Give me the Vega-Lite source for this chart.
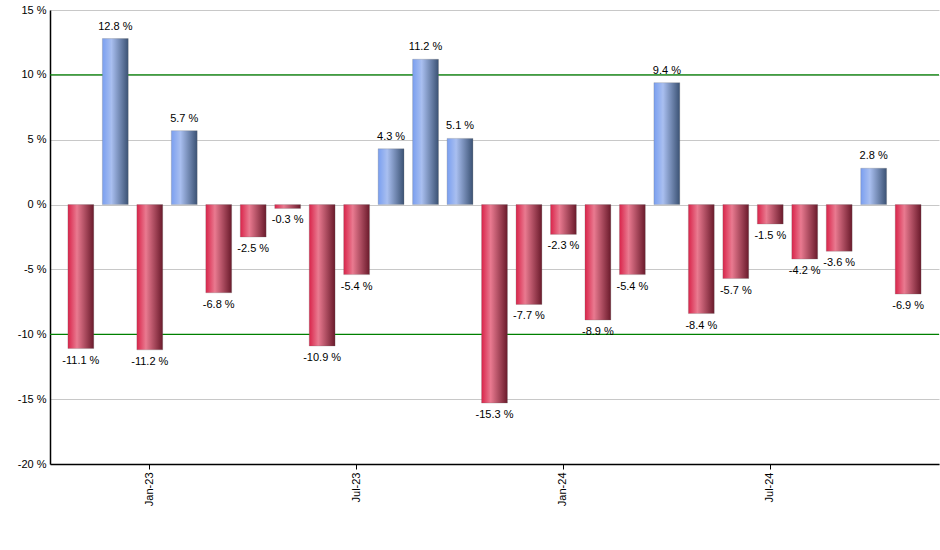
{
  "$schema": "https://vega.github.io/schema/vega-lite/v6.json",
  "autosize": {"type": "none"},
  "padding": {"left": 50, "top": 10, "right": 1, "bottom": 86},
  "width": 889,
  "height": 454,
  "background": "white",
  "config": {
    "view": {"stroke": null},
    "font": "Liberation Sans",
    "axis": {"labelFont": "Liberation Sans", "labelFontSize": 11, "labelColor": "#000000", "domainColor": "#000000", "tickColor": "#000000"}
  },
  "data": {
    "values": [
      {"month": "2022-11", "v": -11.1},
      {"month": "2022-12", "v": 12.8},
      {"month": "2023-01", "v": -11.2},
      {"month": "2023-02", "v": 5.7},
      {"month": "2023-03", "v": -6.8},
      {"month": "2023-04", "v": -2.5},
      {"month": "2023-05", "v": -0.3},
      {"month": "2023-06", "v": -10.9},
      {"month": "2023-07", "v": -5.4},
      {"month": "2023-08", "v": 4.3},
      {"month": "2023-09", "v": 11.2},
      {"month": "2023-10", "v": 5.1},
      {"month": "2023-11", "v": -15.3},
      {"month": "2023-12", "v": -7.7},
      {"month": "2024-01", "v": -2.3},
      {"month": "2024-02", "v": -8.9},
      {"month": "2024-03", "v": -5.4},
      {"month": "2024-04", "v": 9.4},
      {"month": "2024-05", "v": -8.4},
      {"month": "2024-06", "v": -5.7},
      {"month": "2024-07", "v": -1.5},
      {"month": "2024-08", "v": -4.2},
      {"month": "2024-09", "v": -3.6},
      {"month": "2024-10", "v": 2.8},
      {"month": "2024-11", "v": -6.9}
    ]
  },
  "encoding": {
    "x": {
      "field": "month", "type": "ordinal",
      "scale": {
        "domain": ["2022-11","2022-12","2023-01","2023-02","2023-03","2023-04","2023-05","2023-06","2023-07","2023-08","2023-09","2023-10","2023-11","2023-12","2024-01","2024-02","2024-03","2024-04","2024-05","2024-06","2024-07","2024-08","2024-09","2024-10","2024-11"],
        "paddingInner": 0.25, "paddingOuter": 0.52
      },
      "axis": {
        "title": null,
        "values": ["2023-01", "2023-07", "2024-01", "2024-07"],
        "labelExpr": "['Jan','Feb','Mar','Apr','May','Jun','Jul','Aug','Sep','Oct','Nov','Dec'][toNumber(slice(datum.value,5,7))-1] + '-' + slice(datum.value,2,4)",
        "labelAngle": -90,
        "labelAlign": "right",
        "labelBaseline": "middle",
        "tickSize": 5,
        "labelPadding": 3,
        "grid": false,
        "domainWidth": 1.5,
        "zindex": 2
      }
    },
    "y": {
      "field": "v", "type": "quantitative",
      "scale": {"domain": [-20, 15], "nice": false, "zero": false},
      "axis": {
        "title": null,
        "values": [-20, -15, -10, -5, 0, 5, 10, 15],
        "labelExpr": "datum.value + ' %'",
        "tickSize": 0,
        "labelPadding": 4,
        "grid": true,
        "gridColor": "#c8c8c8",
        "domainWidth": 1.5,
        "zindex": 0
      }
    }
  },
  "layer": [
    {
      "data": {"values": [{"g": 10}, {"g": -10}]},
      "mark": {"type": "rule", "color": "#008000", "strokeWidth": 1.2},
      "encoding": {"x": null, "y": {"field": "g", "type": "quantitative"}}
    },
    {
      "transform": [{"filter": "datum.v >= 0"}],
      "mark": {
        "type": "bar",
        "fill": {"gradient": "linear", "x1": 0, "x2": 1, "y1": 0, "y2": 0,
          "stops": [
            {"offset": 0, "color": "#7a9ff0"},
            {"offset": 0.35, "color": "#a9bff0"},
            {"offset": 1, "color": "#3b5274"}
          ]},
        "stroke": "#6a6a6a", "strokeWidth": 0.5, "strokeOpacity": 0.5
      },
      "encoding": {"y2": {"datum": 0}}
    },
    {
      "transform": [{"filter": "datum.v < 0"}],
      "mark": {
        "type": "bar",
        "fill": {"gradient": "linear", "x1": 0, "x2": 1, "y1": 0, "y2": 0,
          "stops": [
            {"offset": 0, "color": "#d9244a"},
            {"offset": 0.35, "color": "#e97a90"},
            {"offset": 1, "color": "#6a1a2b"}
          ]},
        "stroke": "#6a6a6a", "strokeWidth": 0.5, "strokeOpacity": 0.5
      },
      "encoding": {"y2": {"datum": 0}}
    },
    {
      "transform": [{"calculate": "replace(format(datum.v, '.1f'), '\u2212', '-') + ' %'", "as": "label"}, {"filter": "datum.v >= 0"}],
      "mark": {"type": "text", "baseline": "bottom", "dy": -7, "fontSize": 11, "color": "#000000"},
      "encoding": {"text": {"field": "label"}}
    },
    {
      "transform": [{"calculate": "replace(format(datum.v, '.1f'), '\u2212', '-') + ' %'", "as": "label"}, {"filter": "datum.v < 0"}],
      "mark": {"type": "text", "baseline": "top", "dy": 6, "fontSize": 11, "color": "#000000"},
      "encoding": {"text": {"field": "label"}}
    }
  ]
}
